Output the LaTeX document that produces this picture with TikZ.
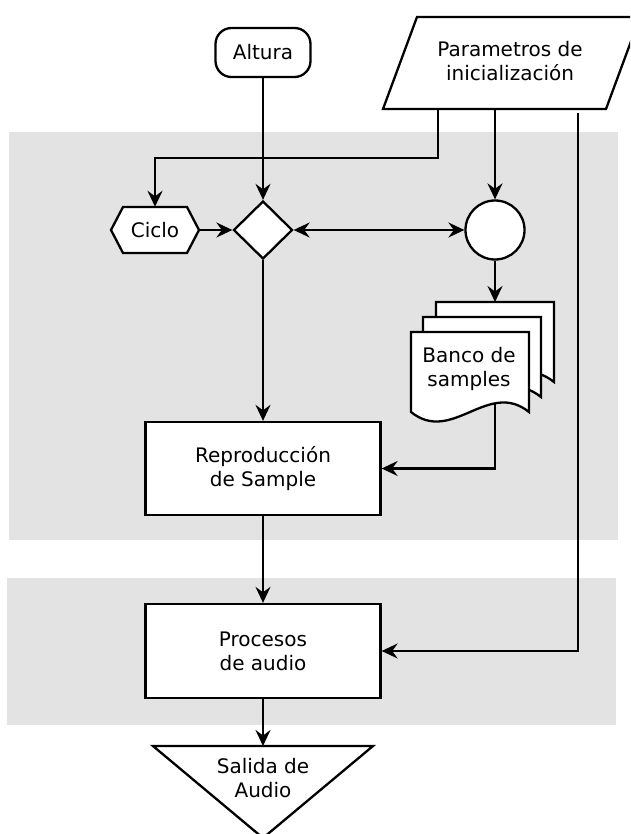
\documentclass[tikz,border=0pt]{standalone}
\usepackage{fontspec}
\setmainfont{DejaVu Sans}
\usetikzlibrary{arrows.meta,shapes.geometric,calc}
\definecolor{band}{RGB}{227,227,227}
\newcommand{\mydocsheet}[2]{%
  \draw[shapeline, line join=miter] (#1,#2) -- ({#1+118},#2) -- ({#1+118},{#2+80})
    .. controls ({#1+77},{#2+47}) and ({#1+41},{#2+113}) .. (#1,{#2+80}) -- cycle;}
\begin{document}
\begin{tikzpicture}[x=1pt,y=-1pt,
  every node/.style={font=\fontsize{20pt}{24pt}\selectfont, align=center},
  shapeline/.style={draw=black, line width=2.3pt, fill=white},
  conn/.style={draw=black, line width=2.3pt, ->},
  >={Stealth[length=16pt,width=15pt,inset=5.5pt]},
  procbox/.style={shapeline, rectangle, minimum width=235pt, minimum height=93pt, inner sep=0pt}
]
\useasboundingbox (0,0) rectangle (630,834);
\clip (0,0) rectangle (630,834);
% background bands
\fill[band] (9,132) rectangle (618,540);
\fill[band] (7,578) rectangle (616,725);

% Altura
\node[shapeline, rectangle, rounded corners=16pt, minimum width=95pt, minimum height=49pt, inner sep=0pt] (altura) at (263,52.5) {Altura};

% Parametros de inicializacion (parallelogram)
\draw[shapeline, line join=miter] (417,17) -- (640,17) -- (606,109) -- (383,109) -- cycle;
\node (param) at (510,61.5) {Parametros de\\inicialización};
\coordinate (pa) at (438,109);
\coordinate (pb) at (495,109);
\coordinate (pc) at (578,113);

% Ciclo (hexagon)
\coordinate (cc) at (155,230);
\draw[shapeline, line join=miter] ($(cc)+(-44,0)$) -- ($(cc)+(-32,-23)$) -- ($(cc)+(32,-23)$) -- ($(cc)+(44,0)$) -- ($(cc)+(32,23)$) -- ($(cc)+(-32,23)$) -- cycle;
\node[minimum width=88pt, minimum height=46pt, inner sep=0pt] (ciclo) at (cc) {Ciclo};

% decision diamond
\node[shapeline, diamond, minimum width=59pt, minimum height=58pt, inner sep=0pt] (dec) at (263,230) {};

% circle
\node[shapeline, circle, minimum size=59pt, inner sep=0pt] (merge) at (495,230) {};

% document stack
\mydocsheet{436}{302}
\mydocsheet{423}{317}
\mydocsheet{411}{332}
\node (bank) at (469,368.5) {Banco de\\samples};
\coordinate (bankin) at (495,302);
\coordinate (bankout) at (495,404);

% process boxes
\node[procbox] (repro) at (263,468.5) {Reproducción\\de Sample};
\node[procbox, minimum height=94pt] (proc) at (263,651) {Procesos\\de audio};

% Salida (triangle)
\draw[shapeline, line join=miter] (153,746) -- (373,746) -- (263,838) -- cycle;
\node (salida) at (263,778.5) {Salida de\\Audio};
\coordinate (salidatop) at (263,746);

% connectors
\draw[conn] (altura.south) -- (dec.north);
\draw[conn] (pa) -- ++(0,49) -| (ciclo.north);
\draw[conn] (pb) -- (merge.north);
\draw[conn] (pc) |- (proc.east);
\draw[conn] (ciclo.east) -- (dec.west);
\draw[draw=black, line width=2.3pt, <->] (dec.east) -- (merge.west);
\draw[conn] (merge.south) -- (bankin);
\draw[conn] (dec.south) -- (repro.north);
\draw[conn] (bankout) |- (repro.east);
\draw[conn] (repro.south) -- (proc.north);
\draw[conn] (proc.south) -- (salidatop);
\end{tikzpicture}
\end{document}
